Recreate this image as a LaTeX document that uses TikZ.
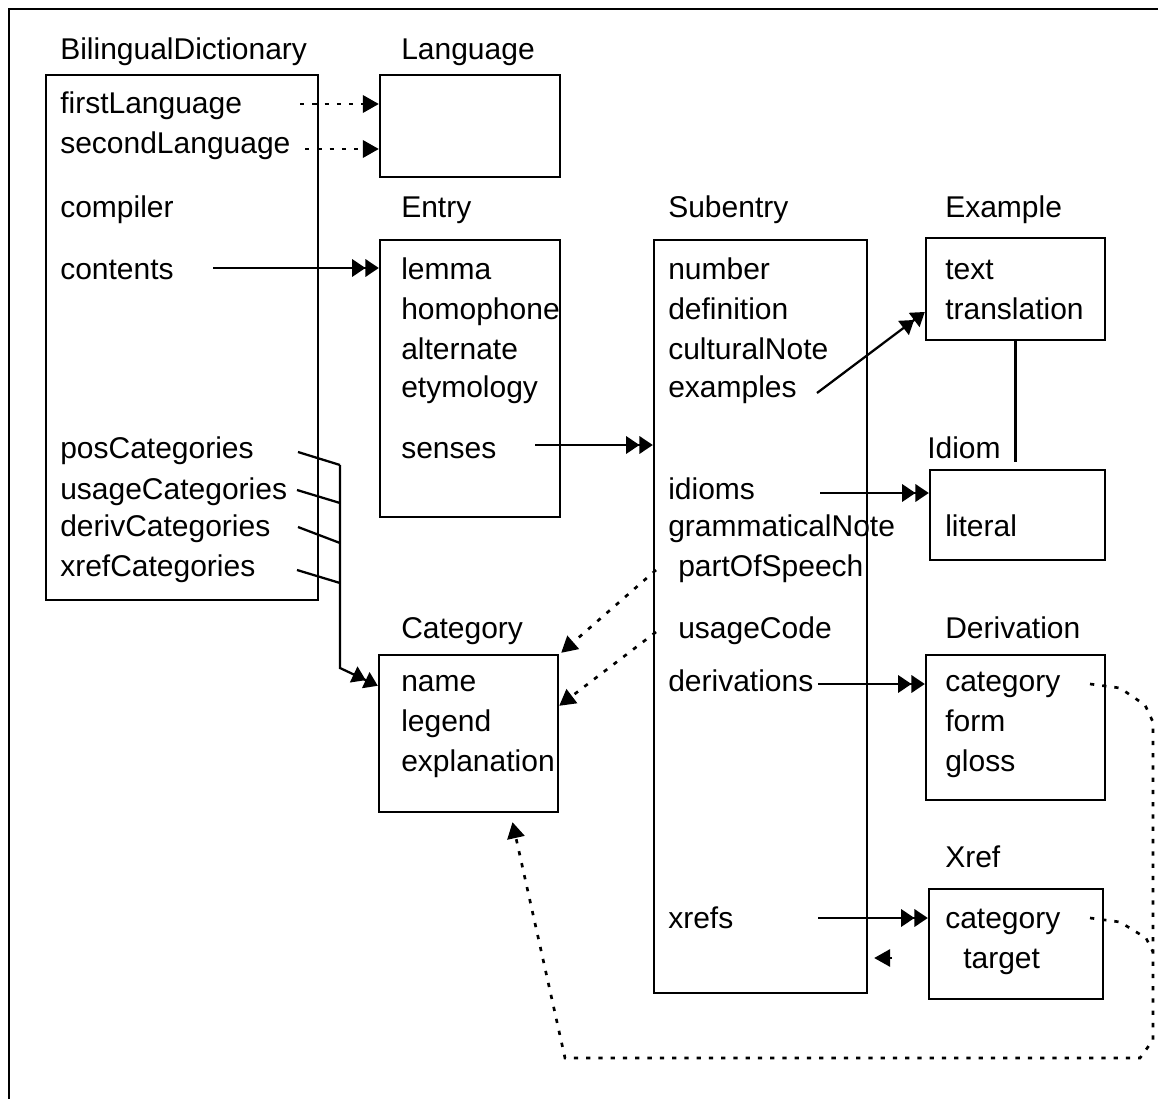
\documentclass[tikz,border=0pt]{standalone}
\usepackage{fontspec}
\setmainfont{Liberation Sans}
\usetikzlibrary{arrows.meta,calc,fit}
\begin{document}
\begin{tikzpicture}[x=0.75pt,y=-0.75pt,
  txt/.style={anchor=base west,inner sep=0pt,font=\fontsize{22.5}{27}\selectfont},
  box/.style={draw,line width=1.8pt,inner sep=0pt},
  conn/.style={line width=1.7pt},
  dotline/.style={line width=2pt,dash pattern=on 3.2pt off 6pt},
  onetip/.style={-{Triangle[length=12pt,width=13pt]}},
  twotip/.style={-{Triangle[length=10pt,width=13pt]Triangle[length=10pt,width=13pt]}}]
\useasboundingbox (0,0) rectangle (1158,1099);
% outer frame (only top and left visible)
\draw[line width=2.2pt] (1158,9) -- (9,9) -- (9,1099);

% boxes
\node[box,fit={(46,75) (318,600)}] (bdbox) {};
\node[box,fit={(380,75) (560,177)}] (langbox) {};
\node[box,fit={(380,240) (560,517)}] (entrybox) {};
\node[box,fit={(654,240) (867,993)}] (subbox) {};
\node[box,fit={(926,238) (1105,340)}] (exbox) {};
\node[box,fit={(930,470) (1105,560)}] (idbox) {};
\node[box,fit={(379,655) (558,812)}] (catbox) {};
\node[box,fit={(926,655) (1105,800)}] (derbox) {};
\node[box,fit={(929,889) (1103,999)}] (xrefbox) {};

% titles
\node[txt] (t_bd) at (60,60) {BilingualDictionary};
\node[txt] (t_lang) at (401,60) {Language};
\node[txt] (t_entry) at (401,218) {Entry};
\node[txt] (t_sub) at (668,218) {Subentry};
\node[txt] (t_ex) at (945,218) {Example};
\node[txt] (t_idiom) at (927,458) {Idiom};
\node[txt] (t_cat) at (401,638) {Category};
\node[txt] (t_der) at (945,638) {Derivation};
\node[txt] (t_xref) at (945,867) {Xref};

% BilingualDictionary
\node[txt] (fl) at (60,114) {firstLanguage};
\node[txt] (sl) at (60,154) {secondLanguage};
\node[txt] (comp) at (60,218) {compiler};
\node[txt] (cont) at (60,279) {contents};
\node[txt] (posc) at (60,458) {posCategories};
\node[txt] (usagec) at (60,499) {usageCategories};
\node[txt] (derivc) at (60,536) {derivCategories};
\node[txt] (xrefc) at (60,576) {xrefCategories};

% Entry
\node[txt] (lemma) at (401,279) {lemma};
\node[txt] (homo) at (401,319) {homophone};
\node[txt] (alt) at (401,359) {alternate};
\node[txt] (etym) at (401,397) {etymology};
\node[txt] (senses) at (401,458) {senses};

% Subentry
\node[txt] (number) at (668,279) {number};
\node[txt] (defn) at (668,319) {definition};
\node[txt] (cult) at (668,359) {culturalNote};
\node[txt] (exs) at (668,397) {examples};
\node[txt] (idioms) at (668,499) {idioms};
\node[txt] (gram) at (668,536) {grammaticalNote};
\node[txt] (pos) at (678,576) {partOfSpeech};
\node[txt] (ucode) at (678,638) {usageCode};
\node[txt] (derivs) at (668,691) {derivations};
\node[txt] (xrefs) at (668,928) {xrefs};

% Example
\node[txt] (extext) at (945,279) {text};
\node[txt] (extr) at (945,319) {translation};
% Idiom
\node[txt] (literal) at (945,536) {literal};
% Category
\node[txt] (cname) at (401,691) {name};
\node[txt] (clegend) at (401,731) {legend};
\node[txt] (cexpl) at (401,771) {explanation};
% Derivation
\node[txt] (dcat) at (945,691) {category};
\node[txt] (dform) at (945,731) {form};
\node[txt] (dgloss) at (945,771) {gloss};
% Xref
\node[txt] (xcat) at (945,928) {category};
\node[txt] (xtarget) at (963,968) {target};

% connector start coordinates
\coordinate (c_fl) at (300,104);
\coordinate (c_sl) at (305,149);
\coordinate (c_cont) at (213,268);
\coordinate (c_senses) at (535,445);
\coordinate (c_exs) at (817,393);
\coordinate (c_idioms) at (820,493);
\coordinate (c_derivs) at (818,684);
\coordinate (c_xrefs) at (818,918);
\coordinate (c_pos) at (656,570);
\coordinate (c_ucode) at (656,632);
\coordinate (c_target) at (892,958);
\coordinate (s1) at (298,452);
\coordinate (s2) at (297,490);
\coordinate (s3) at (298,527);
\coordinate (s4) at (297,570);
\coordinate (b1) at (340,465);
\coordinate (b2) at (340,503);
\coordinate (b3) at (340,543);
\coordinate (b4) at (340,583);
\coordinate (bend) at (340,668);
\coordinate (c_dcat) at (1090,684);
\coordinate (c_xcat) at (1090,918);

% Language references (dotted)
\draw[dotline,onetip] (c_fl) -- (c_fl -| langbox.west);
\draw[dotline,onetip] (c_sl) -- (c_sl -| langbox.west);
% contents -> Entry
\draw[conn,twotip] (c_cont) -- (c_cont -| entrybox.west);
% senses -> Subentry
\draw[conn,twotip] (c_senses) -- (c_senses -| subbox.west);
% examples -> Example
\draw[conn,twotip] (c_exs) -- ($(exbox.south west)!0.28!(exbox.north west)$);
% idioms -> Idiom
\draw[conn,twotip] (c_idioms) -- (c_idioms -| idbox.west);
% Example -- Idiom
\draw[conn] (exbox.south) -- ($(exbox.south |- idbox.north)+(0,-7)$);
% derivations -> Derivation
\draw[conn,twotip] (c_derivs) -- (c_derivs -| derbox.west);
% xrefs -> Xref
\draw[conn,twotip] (c_xrefs) -- (c_xrefs -| xrefbox.west);
% target -> Subentry (only tip visible)
\draw[conn,onetip] (c_target) -- ($(c_target -| subbox.east)+(6,0)$);

% category bus
\draw[conn] (s1) -- (b1);
\draw[conn] (s2) -- (b2);
\draw[conn] (s3) -- (b3);
\draw[conn] (s4) -- (b4);
\draw[conn,twotip] (b1) -- (bend) -- ($(catbox.north west)+(0,32)$);

% partOfSpeech, usageCode -> Category (dotted)
\draw[dotline,onetip] (c_pos) -- ($(catbox.north east)+(2,-1)$);
\draw[dotline,onetip] (c_ucode) -- ($(catbox.north east)+(0,52)$);

% Derivation.category / Xref.category -> Category (dotted)
\draw[dotline,onetip] (c_dcat) -- (1120,688) -- (1145,705) -- (1153,722) -- (1153,1040)
  -- (1140,1058) -- (565,1058) -- ($(catbox.south)+(44,9)$);
\draw[dotline] (c_xcat) -- (1120,922) -- (1146,938) -- (1153,952);
\end{tikzpicture}
\end{document}
